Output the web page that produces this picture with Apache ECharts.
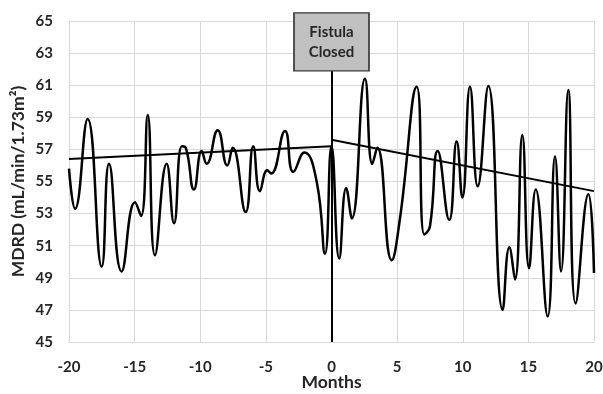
<!DOCTYPE html>
<html>
<head>
<meta charset="utf-8">
<script src="https://cdn.jsdelivr.net/npm/echarts@6/dist/echarts.min.js"></script>
<style>
  html, body { margin: 0; padding: 0; background: #fff; }
  #chart { width: 603px; height: 394px; }
</style>
</head>
<body>
<div id="chart"></div>
<script>
// months relative to fistula closure, MDRD readings
let months = [-20, -19.54, -18.58, -17.51, -16.95, -15.99, -14.97, -14.51, -14.0, -13.45,
  -12.56, -12.0, -11.4, -11.1, -10.48, -9.89, -9.51, -8.67, -7.94, -7.53,
  -6.54, -5.96, -5.45, -4.89, -4.6, -3.54, -2.91, -2.07, -1.13, -0.5,
  0.0, 0.59, 1.12, 1.55, 2.55, 3.11, 3.49, 4.59, 5.2, 6.49,
  7.07, 7.5, 8.09, 8.97, 9.54, 9.97, 10.55, 11.14, 11.95, 13.04,
  13.55, 13.98, 14.54, 15.05, 15.56, 16.47, 17.03, 17.49, 18.04, 18.6,
  19.57, 20];
let mdrd = [55.8, 53.3, 58.9, 49.7, 56.1, 49.4, 53.7, 52.85, 59.15, 50.4,
  56.1, 52.4, 57.2, 57.1, 54.5, 56.9, 56.1, 58.2, 56.0, 57.1,
  53.1, 57.2, 54.4, 55.7, 55.5, 58.15, 55.6, 56.8, 55.0, 50.5,
  57.2, 50.2, 54.6, 52.7, 61.4, 56.1, 57.1, 50.1, 52.6, 60.9,
  51.7, 52.2, 56.9, 52.6, 57.5, 54.0, 60.9, 54.7, 60.95, 47.0,
  50.9, 48.9, 57.9, 49.6, 54.5, 46.6, 56.55, 49.4, 60.7, 47.4,
  54.2, 49.3];
// linear trends before / after closure
let trendBefore = [[-20, 56.4], [0, 57.2]];
let trendAfter = [[0, 57.6], [20, 54.4]];
let closureLine = [[0, 45], [0, 61.88]];
let closureBox = [0, 63.7];

let myChart = echarts.init(document.getElementById('chart'));
let labelFont = {
  fontFamily: 'Lato',
  fontWeight: 'bold',
  fontSize: 15,
  color: '#262626'
};
let titleFont = Object.assign({}, labelFont, {fontSize: 17.5});
let curve = [];
for (let i = 0; i < months.length; i++) {
  curve.push([months[i], mdrd[i]]);
}
let option = {
  backgroundColor: '#fff',
  animation: false,
  grid: {
    left: 69,
    right: 9,
    top: 21,
    bottom: 52,
    containLabel: false,
    outerBoundsMode: 'none'
  },
  xAxis: {
    type: 'value',
    min: -20,
    max: 20,
    interval: 5,
    name: 'Months',
    nameLocation: 'middle',
    nameGap: 31,
    nameMoveOverlap: false,
    nameTextStyle: titleFont,
    axisLine: {lineStyle: {color: '#d9d9d9'}},
    axisTick: {show: false},
    splitLine: {show: true, lineStyle: {color: '#d9d9d9'}},
    axisLabel: Object.assign({margin: 18}, labelFont)
  },
  yAxis: {
    type: 'value',
    min: 45,
    max: 65,
    interval: 2,
    name: 'MDRD (mL/min/1.73m²)',
    nameLocation: 'middle',
    nameGap: 42,
    nameMoveOverlap: false,
    nameTextStyle: titleFont,
    axisLine: {show: true, lineStyle: {color: '#d9d9d9'}},
    axisTick: {show: false},
    splitLine: {show: true, lineStyle: {color: '#d9d9d9'}},
    axisLabel: Object.assign({margin: 16}, labelFont)
  },
  series: [
    {
      name: 'MDRD',
      type: 'line',
      data: curve,
      smooth: 0.5,
      showSymbol: false,
      lineStyle: {color: '#000', width: 2.5},
      z: 3
    },
    {
      name: 'trendBefore',
      type: 'line',
      data: trendBefore,
      showSymbol: false,
      lineStyle: {color: '#000', width: 2},
      z: 4
    },
    {
      name: 'trendAfter',
      type: 'line',
      data: trendAfter,
      showSymbol: false,
      lineStyle: {color: '#000', width: 2},
      z: 4,
      markLine: {
        silent: true,
        symbol: 'none',
        label: {show: false},
        lineStyle: {color: '#000', width: 2, type: 'solid'},
        data: [[{coord: closureLine[0]}, {coord: closureLine[1]}]]
      },
      markPoint: {
        silent: true,
        symbol: 'rect',
        symbolSize: [75, 58],
        itemStyle: {color: '#c0c0c0', borderColor: '#3a3a3a', borderWidth: 1.5},
        label: {
          show: true,
          formatter: 'Fistula\nClosed',
          fontFamily: 'Lato',
          fontWeight: 'bold',
          fontSize: 15,
          lineHeight: 20,
          color: '#262626'
        },
        data: [{coord: closureBox}]
      }
    }
  ]
};
myChart.setOption(option);
</script>
</body>
</html>
